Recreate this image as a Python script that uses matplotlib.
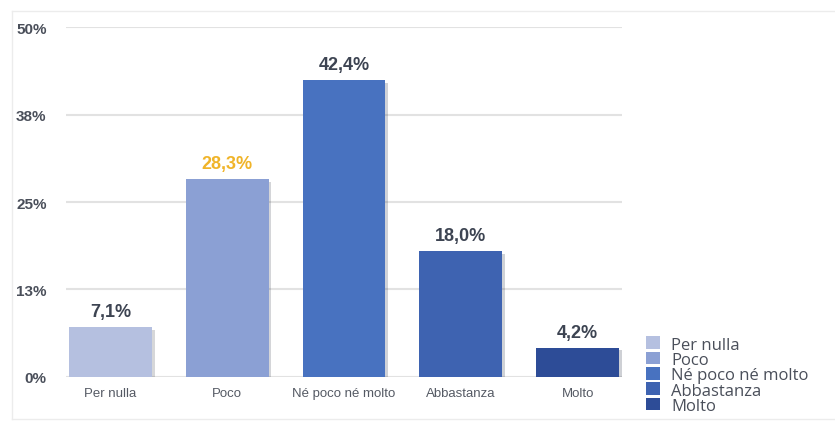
import matplotlib.pyplot as plt
import matplotlib.patheffects as pe
from matplotlib.patches import Patch
from matplotlib.lines import Line2D

# risposte e percentuali
categorie = ["Per nulla", "Poco", "Né poco né molto", "Abbastanza", "Molto"]
valori = [7.1, 28.3, 42.4, 18.0, 4.2]
colori = ["#b5c0e0", "#8ba0d4", "#4872c0", "#3e63b1", "#2d4c97"]
colori_etichette = ["#3d4452", "#f0b429", "#3d4452", "#3d4452", "#3d4452"]
tick_y = [0, 12.5, 25, 37.5, 50]
tick_y_label = ["0%", "13%", "25%", "38%", "50%"]

fig = plt.figure(figsize=(8.35, 4.31), dpi=100)
ax = fig.add_axes([0.079, 0.123, 0.666, 0.812])

x = range(len(categorie))
barre = ax.bar(x, valori, width=0.71, color=colori, zorder=3)
for b in barre:
    b.set_path_effects([pe.SimplePatchShadow(offset=(2, -2), alpha=0.2),
                        pe.Normal()])

for xi, v, c in zip(x, valori, colori_etichette):
    ax.annotate(f"{v:.1f}".replace(".", ",") + "%", (xi, v),
                xytext=(0, 5), textcoords="offset points",
                ha="center", va="bottom", fontsize=13, color=c,
                fontweight="semibold", family="Liberation Sans")

ax.set_xlim(-0.38, 4.38)
ax.set_ylim(0, 50)
ax.set_yticks(tick_y)
ax.set_yticklabels(tick_y_label, fontsize=11, color="#4a4f5a",
                   fontweight="semibold", family="Liberation Sans")
ax.set_xticks(list(x))
ax.set_xticklabels(categorie, fontsize=9.5, color="#555a64",
                   family="Liberation Sans")
ax.tick_params(axis="y", length=0, pad=14)
ax.tick_params(axis="x", length=0, pad=7)
ax.grid(axis="y", color="#e2e2e2", linewidth=1.5, zorder=0)
for s in ax.spines.values():
    s.set_visible(False)

# cornice leggera attorno al grafico
fig.add_artist(Line2D([12 / 835, 12 / 835], [1 - 420 / 431, 1 - 12 / 431],
                      transform=fig.transFigure, color="#ececec", lw=1))
fig.add_artist(Line2D([12 / 835, 1], [1 - 12 / 431, 1 - 12 / 431],
                      transform=fig.transFigure, color="#ececec", lw=1))
fig.add_artist(Line2D([12 / 835, 1], [1 - 420 / 431, 1 - 420 / 431],
                      transform=fig.transFigure, color="#ececec", lw=1))

handles = [Patch(facecolor=c, edgecolor="none") for c in colori]
fig.legend(handles, categorie, loc="upper left",
           bbox_to_anchor=(638 / 835, 1 - 329 / 431), frameon=False,
           handlelength=0.8, handleheight=0.8,
           handletextpad=0.7, labelspacing=-0.05, borderpad=0,
           labelcolor="#4a4f5a", prop={"family": "Open Sans", "size": 12})

fig.savefig("out.png", dpi=100)
